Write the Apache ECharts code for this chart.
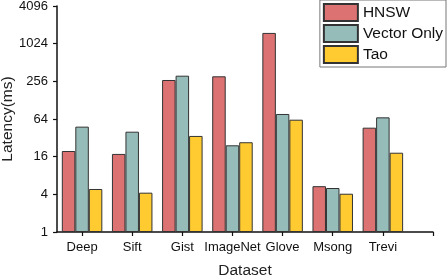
<!DOCTYPE html>
<html>
<head>
<meta charset="utf-8">
<script src="https://cdn.jsdelivr.net/npm/echarts@6/dist/echarts.min.js"></script>
<style>html,body{margin:0;padding:0;background:#fff}#c{width:448px;height:278px}</style>
</head>
<body>
<div id="c"></div>
<script>
const categories = ['Deep', 'Sift', 'Gist', 'ImageNet', 'Glove', 'Msong', 'Trevi'];
const seriesNames = ['HNSW', 'Vector Only', 'Tao'];
const hnsw = [19.7, 17.7, 269, 308, 1520, 5.4, 46.5];
const vectorOnly = [48.3, 40.1, 315, 24.3, 77, 5.05, 68];
const tao = [4.87, 4.25, 34.3, 27.2, 62.4, 4.09, 18.5];
const yTicks = [1, 4, 16, 64, 256, 1024, 4096];
const colors = ['#dc7272', '#96bcba', '#ffcb30'];

const font = "'Liberation Sans', Arial, sans-serif";
const pos = categories.map((c, i) => i + 1);
const tickPos = pos.concat([categories.length + 1]);
const values = [hnsw, vectorOnly, tao];

const chart = echarts.init(document.getElementById('c'), null, {renderer: 'canvas'});
chart.setOption({
  animation: false,
  backgroundColor: '#fff',
  textStyle: {fontFamily: font},
  grid: {left: 57, right: 15, top: 6, bottom: 46, outerBoundsMode: 'none', containLabel: false},
  legend: {
    orient: 'vertical',
    right: 2, top: 0,
    itemWidth: 34, itemHeight: 17, itemGap: 2,
    padding: [3, 3, 3, 3],
    backgroundColor: '#fff',
    borderColor: '#777', borderWidth: 1,
    textStyle: {fontSize: 15.5, color: '#111', fontFamily: font},
    data: seriesNames.map(n => ({name: n, icon: 'rect'}))
  },
  xAxis: {
    type: 'value',
    min: 0.5, max: categories.length + 1,
    name: 'Dataset', nameLocation: 'middle', nameGap: 31, nameMoveOverlap: false,
    nameTextStyle: {fontSize: 15.5, color: '#222', fontFamily: font},
    axisLine: {show: true, onZero: false, lineStyle: {color: '#111', width: 1.5}},
    axisTick: {show: true, inside: false, length: 4, customValues: tickPos, lineStyle: {color: '#111', width: 1.2}},
    axisLabel: {customValues: pos, fontSize: 13, color: '#111', margin: 9, fontFamily: font,
      formatter: v => categories[Math.round(v) - 1] || ''},
    splitLine: {show: false}
  },
  yAxis: {
    type: 'log', logBase: 4, min: 1, max: 4096,
    name: 'Latency(ms)', nameLocation: 'middle', nameGap: 41, nameMoveOverlap: false,
    nameTextStyle: {fontSize: 15.5, color: '#222', fontFamily: font},
    axisLine: {show: true, lineStyle: {color: '#111', width: 1.5}},
    axisTick: {show: true, inside: false, length: 4, lineStyle: {color: '#111', width: 1.2}},
    axisLabel: {fontSize: 13, color: '#111', margin: 9, fontFamily: font,
      formatter: v => String(Math.round(v))},
    minorTick: {show: false},
    splitLine: {show: false}
  },
  series: seriesNames.map((n, si) => ({
    name: n,
    type: 'bar',
    barWidth: 13.5,
    barGap: '0%',
    itemStyle: {color: colors[si], borderColor: '#333', borderWidth: 1},
    data: values[si].map((v, i) => [pos[i], v])
  }))
});
</script>
</body>
</html>
